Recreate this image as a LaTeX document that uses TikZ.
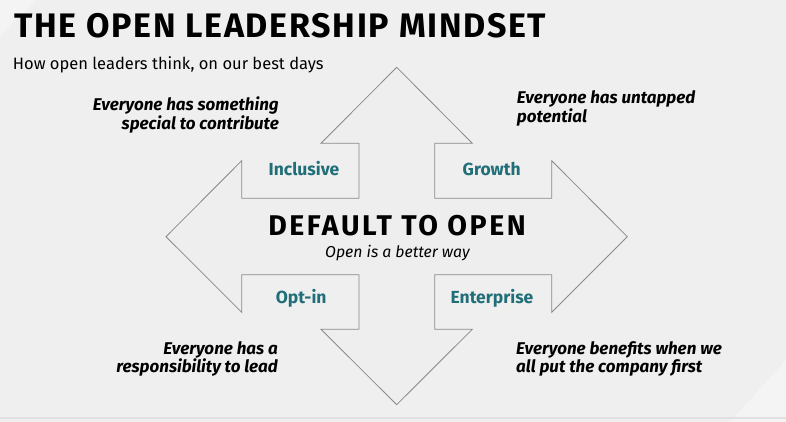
\documentclass[tikz,border=0pt]{standalone}
\usepackage{fontspec}
\setmainfont{Fira Sans}
\definecolor{bg}{HTML}{EFEFEF}
\definecolor{bgl}{HTML}{F4F4F4}
\definecolor{shapefill}{HTML}{EEEEEE}
\definecolor{shapeline}{HTML}{8A8A8A}
\definecolor{teal}{HTML}{1F6E78}
\tikzset{
  quote/.style={font=\fontsize{17}{19}\selectfont\bfseries\itshape, inner sep=0pt, text=black},
  qr/.style={quote, anchor=base east},
  ql/.style={quote, anchor=base west},
  label/.style={font=\fontsize{17.5}{19}\selectfont\bfseries, text=teal, inner sep=0pt, anchor=base},
}
\begin{document}
\begin{tikzpicture}[x=1pt,y=-1pt]
\useasboundingbox (0,0) rectangle (786,422);
\fill[bg] (0,0) rectangle (786,422);
\fill[bgl] (0,0) -- (36,0) -- (0,36) -- cycle;
\fill[bgl] (786,360) -- (786,422) -- (730,422) -- cycle;
\fill[bgl] (786,395) -- (786,422) -- (760,422) -- cycle;
\draw[draw=black!12, line width=1.5pt] (0,418) -- (786,418);
% star of four arrows
\draw[fill=shapefill, draw=shapeline, line width=0.8pt]
  (396.7,67.3) -- (472.3,143.3) -- (434.7,143.3) -- (434.7,198.3)
  -- (551.7,198.3) -- (551.7,160.7) -- (627.3,236.7) -- (551.7,312.3)
  -- (551.7,274.7) -- (434.7,274.7) -- (434.7,329.3) -- (472.3,329.3)
  -- (396.7,404.7) -- (321,329.3) -- (359,329.3) -- (359,274.7)
  -- (241.7,274.7) -- (241.7,312.3) -- (166,236.7) -- (241.7,160.7)
  -- (241.7,198.3) -- (359,198.3) -- (359,143.3) -- (321,143.3) -- cycle;
\node[anchor=base west, inner sep=0pt, font=\fontsize{34}{36}\selectfont\bfseries\addfontfeature{LetterSpace=5}] (title) at (14,37.3) {THE OPEN LEADERSHIP MINDSET};
\node[anchor=base west, inner sep=0pt, font=\fontsize{16.5}{20}\selectfont] (sub) at (12.7,70) {How open leaders think, on our best days};
\node[qr] (q1a) at (279,111) {Everyone has something};
\node[qr] (q1b) at (279,130) {special to contribute};
\node[ql] (q2a) at (516.7,104) {Everyone has untapped};
\node[ql] (q2b) at (516.7,122.5) {potential};
\node[qr] (q3a) at (278,354) {Everyone has a};
\node[qr] (q3b) at (278,372) {responsibility to lead};
\node[ql] (q4a) at (516,354) {Everyone benefits when we};
\node[ql] (q4b) at (516,372) {all put the company first};
\node[label] (inc) at (304,175.7) {Inclusive};
\node[label] (gro) at (491.7,175.7) {Growth};
\node[label] (opt) at (301.2,303.3) {Opt-in};
\node[label] (ent) at (492,303.3) {Enterprise};
\node[anchor=base, inner sep=0pt, font=\fontsize{28.5}{30}\selectfont\bfseries\addfontfeature{LetterSpace=9}] (def) at (397,235) {DEFAULT TO OPEN};
\node[anchor=base, inner sep=0pt, font=\fontsize{15.8}{18}\selectfont\itshape] (way) at (397.5,257.3) {Open is a better way};
\end{tikzpicture}
\end{document}
